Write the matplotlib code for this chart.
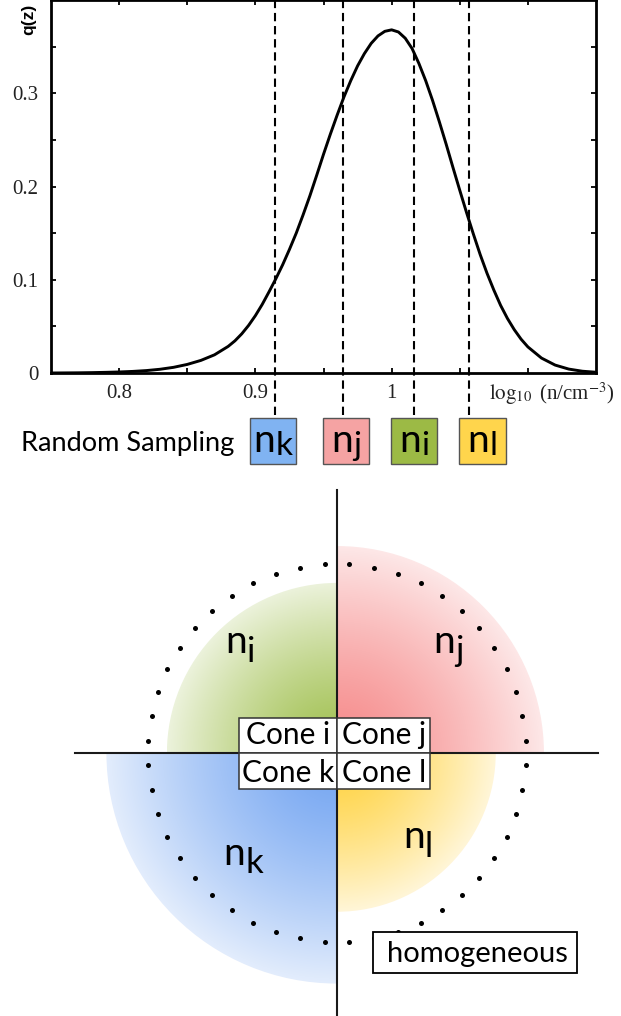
import numpy as np
import matplotlib
matplotlib.use("Agg")
import matplotlib.pyplot as plt
from matplotlib.patches import Rectangle, Wedge

plt.rcParams['mathtext.fontset'] = 'stix'

# --- density curve (finer steps around the peak) ---
density_x = [0.75, 0.76, 0.77, 0.78, 0.79, 0.80, 0.81, 0.82, 0.83, 0.84,
             0.85, 0.86, 0.87, 0.88, 0.885, 0.89, 0.895, 0.90, 0.905, 0.91,
             0.915, 0.92, 0.925, 0.93, 0.935, 0.94, 0.945, 0.95, 0.955, 0.96,
             0.965, 0.97, 0.975, 0.98, 0.985, 0.99, 0.995, 1.00, 1.005, 1.01,
             1.015, 1.02, 1.025, 1.03, 1.035, 1.04, 1.045, 1.05, 1.055, 1.06,
             1.065, 1.07, 1.075, 1.08, 1.085, 1.09, 1.095, 1.10, 1.11, 1.12,
             1.13, 1.14, 1.15]
density_q = [0.0000, 0.0001, 0.0002, 0.0004, 0.0007, 0.0011, 0.0017, 0.0026, 0.0040, 0.0061,
             0.0092, 0.0135, 0.0195, 0.0285, 0.0345, 0.0420, 0.0510, 0.0615, 0.0735, 0.0870,
             0.1010, 0.1160, 0.1325, 0.1500, 0.1695, 0.1900, 0.2120, 0.2345, 0.2560, 0.2765,
             0.2960, 0.3135, 0.3293, 0.3425, 0.3535, 0.3615, 0.3664, 0.3680, 0.3657, 0.3590,
             0.3480, 0.3320, 0.3135, 0.2925, 0.2695, 0.2455, 0.2205, 0.1960, 0.1720, 0.1490,
             0.1270, 0.1070, 0.0890, 0.0725, 0.0585, 0.0465, 0.0363, 0.0280, 0.0160, 0.0085,
             0.0042, 0.0019, 0.0008]

# random samples (dashed lines) and their boxes
sample_names = ['k', 'j', 'i', 'l']
sample_x = [0.9146, 0.9646, 1.0166, 1.0568]
box_x = [0.9129, 0.9665, 1.0163, 1.0666]
box_colors = ['#80b3f2', '#f5a3a3', '#9cba45', '#ffd54c']

x_ticks = [0.8, 0.9, 1.0, 1.1]
x_tick_labels = ['0.8', '0.9', '1', '']
y_ticks = [0, 0.1, 0.2, 0.3]
y_tick_labels = ['0', '0.1', '0.2', '0.3']

# --- cone diagram (radius 1 = dotted homogeneous circle) ---
cone_names = ['i', 'j', 'k', 'l']
cone_radius = [0.90, 1.095, 1.22, 0.84]
cone_theta = [90, 0, 180, 270]
cone_colors = [(150, 185, 60), (245, 125, 125), (100, 155, 240), (255, 205, 40)]
cone_label_pos = [(-0.513, 0.528), (0.589, 0.529), (-0.496, -0.593), (0.427, -0.504)]

SANS = 'Lato'
SERIF = 'Liberation Serif'

fig = plt.figure(figsize=(6.21, 10.16), dpi=100)
renderer = fig.canvas.get_renderer()


def n_label(ax, x, y, sub, size, sub_size, drop):
    # "n" with a large, slightly lowered subscript, centred on x
    t1 = ax.annotate('n', (x, y), xytext=(0, 0), textcoords='offset points',
                     ha='right', va='baseline', fontsize=size, family=SANS,
                     annotation_clip=False, zorder=8)
    t2 = ax.annotate(sub, (x, y), xytext=(0, -drop), textcoords='offset points',
                     ha='left', va='baseline', fontsize=sub_size, family=SANS,
                     annotation_clip=False, zorder=8)
    w1 = t1.get_window_extent(renderer).width
    w2 = t2.get_window_extent(renderer).width
    shift = (w1 - w2) / 2 * 72 / fig.dpi
    t1.set_position((shift, 0))
    t2.set_position((shift, -drop))


# ================= top: distribution =================
ax = fig.add_axes([51 / 621, 1 - 373 / 1016, 545 / 621, 373 / 1016])
ax.plot(density_x, density_q, color='black', lw=2.1, zorder=3,
        solid_joinstyle='round', solid_capstyle='round')
for xs in sample_x:
    ax.plot([xs, xs], [-0.045, 0.4], color='black', lw=1.5,
            linestyle=(0, (4, 2.3)), clip_on=False, zorder=2)

ax.set_xlim(0.75, 1.15)
ax.set_ylim(0, 0.4)
ax.set_xticks(x_ticks)
ax.set_xticklabels(x_tick_labels)
ax.set_xticks([0.85, 0.95, 1.05], minor=True)
ax.set_yticks(y_ticks)
ax.set_yticklabels(y_tick_labels)
ax.set_yticks([0.05, 0.15, 0.25, 0.35], minor=True)
ax.tick_params(which='both', direction='in', top=True, right=True,
               length=3.5, width=1.3)
ax.tick_params(axis='x', pad=8)
ax.tick_params(axis='y', pad=9)
for lab in ax.get_xticklabels() + ax.get_yticklabels():
    lab.set_family(SERIF)
    lab.set_fontsize(15)
    lab.set_color('#222222')
for sp in ax.spines.values():
    sp.set_linewidth(2)

ax.text(1.0712, -0.029, r'$\log_{10}$ (n/cm$^{-3}$)', family=SERIF, fontsize=15,
        color='#222222', ha='left', va='baseline', clip_on=False)
fig.text(29 / 621, 1 - 19 / 1016, 'q(z)', rotation=90, fontsize=12.5,
         fontweight='bold', family='Liberation Sans', ha='center', va='center')

ax.text(0.7279, -0.0836, 'Random Sampling', family=SANS, fontsize=19.5,
        ha='left', va='baseline', clip_on=False)
box_w, box_h = 0.0342, 0.05
for name, bx, col in zip(sample_names, box_x, box_colors):
    ax.add_patch(Rectangle((bx - box_w / 2, -0.0979), box_w, box_h, facecolor=col,
                           edgecolor='#555555', lw=1.0, clip_on=False, zorder=4))
    n_label(ax, bx, -0.0844, name, 28, 24, 2.2)

# ================= bottom: cone diagram =================
ax2 = fig.add_axes([0, 0, 1, 530 / 1016])
ax2.axis('off')

for R, th, col in zip(cone_radius, cone_theta, cone_colors):
    sx = 1 if th in (0, 270) else -1
    sy = 1 if th in (0, 90) else -1
    x0, x1 = sorted([0, sx * R])
    y0, y1 = sorted([0, sy * R])
    X, Y = np.meshgrid(np.linspace(x0, x1, 300), np.linspace(y0, y1, 300))
    rr = np.clip(np.hypot(X, Y) / R, 0, 1)
    w = 0.1 + 0.72 * rr ** 1.3
    base = np.array(col) / 255.0
    rgb = base[None, None, :] * (1 - w[..., None]) + w[..., None]
    img = ax2.imshow(rgb, extent=[x0, x1, y0, y1], origin='lower',
                     aspect='auto', interpolation='bilinear', zorder=1)
    img.set_clip_path(Wedge((0, 0), R, th, th + 90, transform=ax2.transData))

# homogeneous reference circle
dot_angles = np.deg2rad(np.arange(3.75, 360, 7.5))
ax2.scatter(np.cos(dot_angles), np.sin(dot_angles), s=13, color='black',
            linewidths=0, zorder=3)

ax2.plot([-1.386, 1.381], [0, 0], color='#1a1a1a', lw=1.5, zorder=4)
ax2.plot([0, 0], [-1.40, 1.392], color='#1a1a1a', lw=1.5, zorder=4)

# cone table
cell_x = [-0.521, 0, 0.493]
cell_y = [-0.191, 0, 0.185]
cells = [(0, 1, 'Cone i', 0.050), (1, 1, 'Cone j', 0.050),
         (0, 0, 'Cone k', -0.152), (1, 0, 'Cone l', -0.152)]
for ci, ri, txt, base_y in cells:
    xa, xb = cell_x[ci], cell_x[ci + 1]
    ya, yb = cell_y[ri], cell_y[ri + 1]
    ax2.add_patch(Rectangle((xa, ya), xb - xa, yb - ya, facecolor='white',
                            edgecolor='#333333', lw=1.1, zorder=5))
    ax2.text((xa + xb) / 2, base_y, txt, family=SANS, fontsize=21.5,
             ha='center', va='baseline', zorder=6)

for name, (lx, ly) in zip(cone_names, cone_label_pos):
    n_label(ax2, lx, ly, name, 28, 25, 6)

ax2.add_patch(Rectangle((0.192, -1.162), 1.079, 0.217, facecolor='white',
                        edgecolor='black', lw=1.3, zorder=6))
ax2.text(0.741, -1.104, 'homogeneous', family=SANS, fontsize=21,
         ha='center', va='baseline', zorder=7)

ax2.set_xlim(-337 / 189, 284 / 189)
ax2.set_ylim(-263 / 189, 267 / 189)

fig.savefig('out.png', dpi=100)
